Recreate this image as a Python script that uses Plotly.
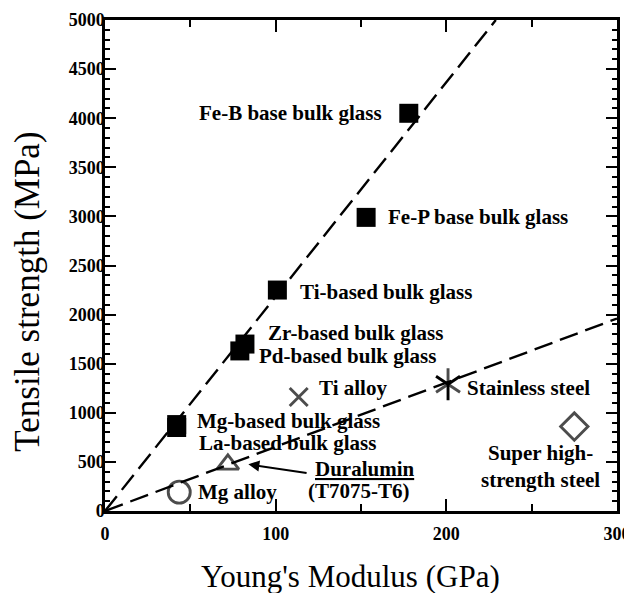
import plotly.graph_objects as go

# ---- data ----
glass_names = ["Fe-B base bulk glass", "Fe-P base bulk glass", "Ti-based bulk glass",
               "Zr-based bulk glass", "Pd-based bulk glass", "Mg-based bulk glass",
               "La-based bulk glass"]
glass_modulus = [178, 153, 101, 82, 79, 42, 42]
glass_strength = [4050, 2990, 2250, 1700, 1630, 880, 850]

alloy_names = ["Duralumin (T7075-T6)", "Mg alloy", "Ti alloy", "Stainless steel",
               "Super high-strength steel"]
alloy_modulus = [72, 43.5, 113.5, 201, 275]
alloy_strength = [475, 192, 1160, 1290, 860]
alloy_symbols = ["triangle-up-open", "circle-open", "x-thin-open", "y-up-open", "diamond-open"]
alloy_sizes = [19, 22, 18, 20, 21]

glass_line_x = [0, 229]
glass_line_y = [0, 5000]
alloy_line_x = [0, 300]
alloy_line_y = [0, 1960]

x_ticks = [0, 100, 200, 300]
y_ticks = [0, 500, 1000, 1500, 2000, 2500, 3000, 3500, 4000, 4500, 5000]

FONT = "Liberation Serif"

fig = go.Figure()
fig.add_trace(go.Scatter(x=glass_line_x, y=glass_line_y, mode="lines",
                         line=dict(color="black", width=2.4, dash="19px,8px"),
                         showlegend=False, hoverinfo="skip"))
fig.add_trace(go.Scatter(x=alloy_line_x, y=alloy_line_y, mode="lines",
                         line=dict(color="black", width=2.4, dash="19px,8px"),
                         showlegend=False, hoverinfo="skip"))
fig.add_trace(go.Scatter(x=glass_modulus, y=glass_strength, mode="markers",
                         text=glass_names,
                         marker=dict(symbol="square", size=19, color="black"),
                         showlegend=False))
fig.add_trace(go.Scatter(x=alloy_modulus, y=alloy_strength, mode="markers",
                         text=alloy_names,
                         marker=dict(symbol=alloy_symbols, size=alloy_sizes, color="black",
                                     line=dict(color="black", width=2.9)),
                         showlegend=False))
# second half of the six-armed asterisk for stainless steel
fig.add_trace(go.Scatter(x=[alloy_modulus[3]], y=[alloy_strength[3]], mode="markers",
                         marker=dict(symbol="y-down-open", size=20, color="black",
                                     line=dict(color="black", width=2.9)),
                         showlegend=False, hoverinfo="skip"))

labels = [
    ("Fe-B base bulk glass", 163.5, 4050, "right"),
    ("Fe-P base bulk glass", 164.5, 2990, "left"),
    ("Ti-based bulk glass", 113, 2235, "left"),
    ("Zr-based bulk glass", 94.5, 1815, "left"),
    ("Pd-based bulk glass", 89, 1575, "left"),
    ("Ti alloy", 124, 1250, "left"),
    ("Stainless steel", 211, 1250, "left"),
    ("Mg-based bulk glass", 53, 920, "left"),
    ("La-based bulk glass", 54, 695, "left"),
    ("<u>Duralumin</u>", 122, 425, "left"),
    ("(T7075-T6)", 118, 200, "left"),
    ("Mg alloy", 53.5, 195, "left"),
    ("Super high-<br>strength steel", 255, 450, "center"),
]
for txt, x, y, anc in labels:
    fig.add_annotation(x=x, y=y, text=txt, showarrow=False, xanchor=anc, yanchor="middle",
                       font=dict(family=FONT, size=21, color="black", weight="bold"))

fig.add_annotation(x=84, y=475, ax=119, ay=385, axref="x", ayref="y", xref="x", yref="y",
                   text="", showarrow=True, arrowhead=2, arrowsize=1.1, arrowwidth=2,
                   arrowcolor="black")

# axis titles as annotations for precise placement
fig.add_annotation(x=0.48, y=-0.133, xref="paper", yref="paper", showarrow=False,
                   text="Young's Modulus (GPa)", xanchor="center", yanchor="middle",
                   font=dict(family=FONT, size=31, color="black"))
fig.add_annotation(x=-0.152, y=0.447, xref="paper", yref="paper", showarrow=False,
                   text="Tensile strength (MPa)", textangle=-90, xanchor="center", yanchor="middle",
                   font=dict(family=FONT, size=35, color="black"))

axis_common = dict(showline=True, linecolor="black", linewidth=2.5, mirror="allticks",
                   ticks="inside", tickcolor="black", tickwidth=2, showgrid=False,
                   zeroline=False, automargin=False, ticklabeloverflow="allow",
                   tickfont=dict(family=FONT, size=18, color="black", weight="bold"))

fig.update_xaxes(range=[0, 300], tickvals=x_ticks, ticklen=12, ticklabelstandoff=5,
                 minor=dict(dtick=50, ticks="inside", ticklen=7, tickcolor="black", tickwidth=2),
                 **axis_common)
fig.update_yaxes(range=[0, 5000], tickvals=y_ticks, ticklen=11, ticklabelstandoff=-6,
                 minor=dict(dtick=100, ticks="inside", ticklen=5, tickcolor="black", tickwidth=1.8),
                 **axis_common)

# the page adds an 8px body margin, so the figure is sized to fit the 632x593 window
fig.update_layout(width=624, height=585, plot_bgcolor="white", paper_bgcolor="white",
                  margin=dict(l=97, r=15, t=12, b=82),
                  font=dict(family=FONT, color="black"))

fig.write_html("out.html")
